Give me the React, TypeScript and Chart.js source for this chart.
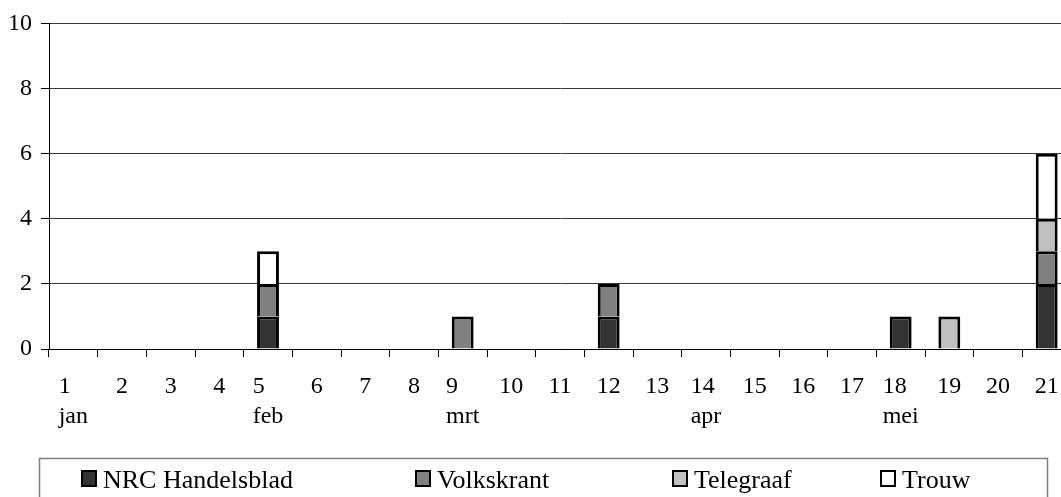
import React, { useEffect, useRef } from 'react';
import { Chart, registerables } from 'chart.js';

Chart.register(...registerables);

const dayLabels = ['1', '2', '3', '4', '5', '6', '7', '8', '9', '10', '11', '12', '13', '14', '15', '16', '17', '18', '19', '20', '21'];
const monthLabels = ['jan', '', '', '', 'feb', '', '', '', 'mrt', '', '', '', '', 'apr', '', '', '', 'mei', '', '', ''];
const seriesNames = ['NRC Handelsblad', 'Volkskrant', 'Telegraaf', 'Trouw'];
const nrcValues = [0, 0, 0, 0, 1, 0, 0, 0, 0, 0, 0, 1, 0, 0, 0, 0, 0, 1, 0, 0, 2];
const volkskrantValues = [0, 0, 0, 0, 1, 0, 0, 0, 1, 0, 0, 1, 0, 0, 0, 0, 0, 0, 0, 0, 1];
const telegraafValues = [0, 0, 0, 0, 0, 0, 0, 0, 0, 0, 0, 0, 0, 0, 0, 0, 0, 0, 1, 0, 1];
const trouwValues = [0, 0, 0, 0, 1, 0, 0, 0, 0, 0, 0, 0, 0, 0, 0, 0, 0, 0, 0, 0, 2];
const yTickValues = [0, 2, 4, 6, 8, 10];

const seriesColors = ['#333333', '#808080', '#c0c0c0', '#ffffff'];
const FONT = '"Liberation Serif", "Times New Roman", serif';

const CANVAS_W = 1072;
const CANVAS_H = 497;

const categoryLabelPlugin = {
  id: 'categoryLabels',
  afterDraw(chart: any) {
    const scale = chart.scales.x;
    const ctx = chart.ctx;
    ctx.save();
    ctx.font = `24px ${FONT}`;
    ctx.fillStyle = '#000';
    ctx.textAlign = 'left';
    ctx.textBaseline = 'alphabetic';
    const labels = chart.data.labels as string[][];
    labels.forEach((lab, i) => {
      const cx = scale.getPixelForValue(i);
      const lines = lab.filter((l) => l && l.length > 0);
      const w = Math.max(...lines.map((l) => ctx.measureText(l).width));
      const left = cx - w / 2;
      lines.forEach((l, j) => {
        ctx.fillText(l, left, scale.top + 44 + j * 30);
      });
    });
    ctx.restore();
  },
};

const boxLegendPlugin = {
  id: 'boxLegend',
  afterDraw(chart: any) {
    const ctx = chart.ctx;
    ctx.save();
    const boxLeft = 39.5;
    const boxTop = 458.5;
    const boxRight = 1047.5;
    ctx.strokeStyle = '#7f7f7f';
    ctx.lineWidth = 1.5;
    ctx.strokeRect(boxLeft, boxTop, boxRight - boxLeft, 80);
    const itemX = [81, 415, 672, 880];
    ctx.font = `26px ${FONT}`;
    ctx.textAlign = 'left';
    ctx.textBaseline = 'alphabetic';
    chart.data.datasets.forEach((ds: any, i: number) => {
      const x = itemX[i];
      ctx.fillStyle = ds.backgroundColor;
      ctx.fillRect(x, 470, 16, 17);
      ctx.strokeStyle = '#000';
      ctx.lineWidth = 2;
      ctx.strokeRect(x + 1, 471, 14, 15);
      ctx.fillStyle = '#000';
      ctx.fillText(ds.label, x + 22, 488);
    });
    ctx.restore();
  },
};

export default function App() {
  const canvasRef = useRef<HTMLCanvasElement | null>(null);

  useEffect(() => {
    if (!canvasRef.current) return;
    const values = [nrcValues, volkskrantValues, telegraafValues, trouwValues];
    const chart = new Chart(canvasRef.current, {
      type: 'bar',
      data: {
        labels: dayLabels.map((d, i) => [d, monthLabels[i]]),
        datasets: seriesNames.map((name, i) => ({
          label: name,
          data: values[i],
          backgroundColor: seriesColors[i],
          borderColor: '#000000',
          borderWidth: 3,
          borderSkipped: 'start' as const,
          categoryPercentage: 1,
          barPercentage: 0.45,
        })),
      },
      options: {
        animation: false,
        responsive: false,
        devicePixelRatio: 1,
        layout: { padding: { top: 21, right: 1, left: 0, bottom: 0 } },
        plugins: {
          legend: { display: false },
          tooltip: { enabled: false },
        },
        scales: {
          x: {
            stacked: true,
            offset: true,
            ticks: { display: false },
            grid: {
              display: true,
              offset: true,
              drawOnChartArea: false,
              drawTicks: true,
              tickLength: 8,
              tickColor: '#000',
              tickWidth: 1,
            },
            border: { display: true, color: '#000', width: 1 },
            afterFit(scale: any) {
              scale.height = CANVAS_H - 349;
            },
          },
          y: {
            stacked: true,
            min: 0,
            max: 10,
            afterBuildTicks(scale: any) {
              scale.ticks = yTickValues.map((v) => ({ value: v }));
            },
            ticks: {
              padding: 9,
              color: '#000',
              font: { family: FONT, size: 24 },
            },
            grid: {
              color: '#3a3a3a',
              lineWidth: 1,
              drawTicks: true,
              tickLength: 8,
              tickColor: '#000',
            },
            border: { display: true, color: '#000', width: 1 },
            afterFit(scale: any) {
              scale.width = 49;
            },
          },
        },
      },
      plugins: [categoryLabelPlugin, boxLegendPlugin],
    });
    return () => chart.destroy();
  }, []);

  return (
    <div
      style={{
        position: 'fixed',
        left: 0,
        top: 0,
        width: 1061,
        height: 497,
        overflow: 'hidden',
        background: '#fff',
      }}
    >
      <canvas
        ref={canvasRef}
        width={CANVAS_W}
        height={CANVAS_H}
        style={{ width: CANVAS_W, height: CANVAS_H, display: 'block' }}
      />
    </div>
  );
}
